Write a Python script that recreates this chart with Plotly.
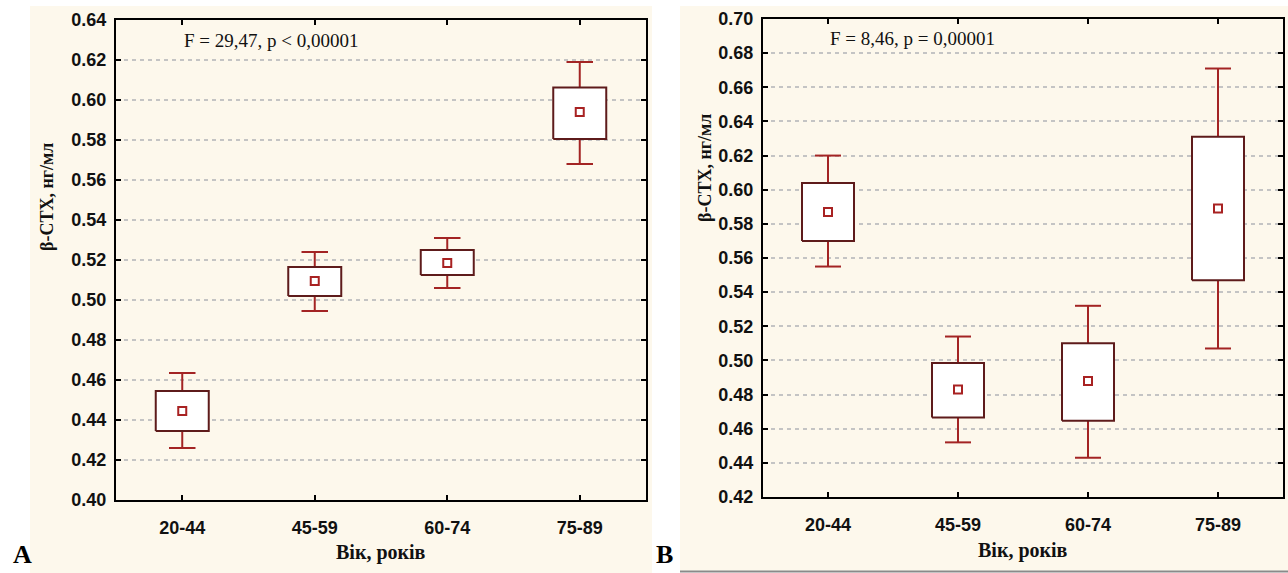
import plotly.graph_objects as go

categories = ["20-44", "45-59", "60-74", "75-89"]

# Panel A
A_q1 = [0.4345, 0.502, 0.5125, 0.5805]
A_q3 = [0.4545, 0.5165, 0.525, 0.6063]
A_mean = [0.4445, 0.5095, 0.5185, 0.594]
A_lo = [0.426, 0.4945, 0.506, 0.568]
A_hi = [0.4635, 0.524, 0.531, 0.619]

# Panel B
B_q1 = [0.570, 0.4665, 0.4647, 0.547]
B_q3 = [0.604, 0.4985, 0.510, 0.631]
B_mean = [0.587, 0.483, 0.488, 0.589]
B_lo = [0.555, 0.452, 0.443, 0.507]
B_hi = [0.620, 0.514, 0.532, 0.671]

W, H = 1288, 573
BOX_COLOR = "#5e1b1b"
WHISK_COLOR = "#a32424"
MEAN_COLOR = "#a82222"
BW = 0.2   # half box width (category units)
CW = 0.1   # half cap width

fig = go.Figure()


def add_panel(q1, q3, mean, lo, hi, xa, ya):
    for i in range(len(categories)):
        fig.add_trace(go.Scatter(
            x=[i, i, None, i - CW, i + CW, None, i, i, None, i - CW, i + CW],
            y=[q3[i], hi[i], None, hi[i], hi[i], None, q1[i], lo[i], None, lo[i], lo[i]],
            mode="lines", line=dict(color=WHISK_COLOR, width=2),
            xaxis=xa, yaxis=ya, showlegend=False, hoverinfo="skip"))
        fig.add_trace(go.Scatter(
            x=[i - BW, i + BW, i + BW, i - BW, i - BW],
            y=[q1[i], q1[i], q3[i], q3[i], q1[i]],
            mode="lines", line=dict(color=BOX_COLOR, width=2),
            fill="toself", fillcolor="white",
            xaxis=xa, yaxis=ya, showlegend=False, hoverinfo="skip"))
    fig.add_trace(go.Scatter(
        x=list(range(len(categories))), y=mean, mode="markers",
        marker=dict(symbol="square-open", size=8, color=MEAN_COLOR,
                    line=dict(width=2, color=MEAN_COLOR)),
        xaxis=xa, yaxis=ya, showlegend=False))


add_panel(A_q1, A_q3, A_mean, A_lo, A_hi, "x", "y")
add_panel(B_q1, B_q3, B_mean, B_lo, B_hi, "x2", "y2")

tickfont = dict(family="Liberation Sans", size=18, color="#111111", weight="bold")


def xax(domain):
    return dict(domain=domain, range=[-0.5, 3.5], tickvals=[0, 1, 2, 3],
                ticktext=categories, showline=True, linecolor="black", linewidth=2,
                mirror="ticks", ticks="inside", ticklen=5, tickwidth=2, tickcolor="black",
                showgrid=False, zeroline=False, tickfont=tickfont, automargin=False,
                ticklabelstandoff=10, fixedrange=True)


def yax(domain, rng, anchor):
    return dict(domain=domain, range=rng, dtick=0.02, tick0=0.40, tickformat=".2f",
                showline=True, linecolor="black", linewidth=2, mirror="ticks",
                ticks="inside", ticklen=5, tickwidth=2, tickcolor="black",
                showgrid=True, gridcolor="#c4c4c4", griddash="4px,4px", gridwidth=1.5,
                zeroline=False, tickfont=tickfont, anchor=anchor, automargin=False,
                ticklabelstandoff=4, fixedrange=True)


fig.update_layout(
    width=W, height=H, margin=dict(l=0, r=0, t=0, b=0, pad=0, autoexpand=False),
    paper_bgcolor="white", plot_bgcolor="white",
    xaxis=xax([116 / W, 646 / W]) | dict(anchor="y"),
    yaxis=yax([(H - 500) / H, (H - 20) / H], [0.40, 0.64], "x"),
    xaxis2=xax([763 / W, 1283 / W]) | dict(anchor="y2"),
    yaxis2=yax([(H - 497) / H, (H - 19) / H], [0.42, 0.70], "x2"),
    shapes=[
        dict(type="rect", xref="paper", yref="paper", x0=30 / W, x1=652 / W,
             y0=0, y1=(H - 6) / H, fillcolor="#fdf8ec", line=dict(width=0), layer="below"),
        dict(type="rect", xref="paper", yref="paper", x0=680 / W, x1=1,
             y0=1 / H, y1=(H - 6) / H, fillcolor="#fdf8ec", line=dict(width=0), layer="below"),
        dict(type="line", xref="paper", yref="paper", x0=680 / W, x1=1,
             y0=1.5 / H, y1=1.5 / H, line=dict(color="#8a8a8a", width=2)),
    ],
)

serif = "Liberation Serif"
ann = [
    dict(text="F = 29,47, p < 0,00001", x=182 / W, y=(H - 40) / H, xanchor="left",
         yanchor="middle", font=dict(family=serif, size=19, color="#111111")),
    dict(text="F = 8,46, p = 0,00001", x=828 / W, y=(H - 38) / H, xanchor="left",
         yanchor="middle", font=dict(family=serif, size=19, color="#111111")),
    dict(text="<b>Вік, років</b>", x=381 / W, y=(H - 552) / H, xanchor="center",
         yanchor="middle", font=dict(family=serif, size=20, color="#111111")),
    dict(text="<b>Вік, років</b>", x=1023 / W, y=(H - 550) / H, xanchor="center",
         yanchor="middle", font=dict(family=serif, size=20, color="#111111")),
    dict(text="<b>β-CTX, нг/мл</b>", x=47 / W, y=(H - 197) / H, xanchor="center",
         yanchor="middle", textangle=-90, font=dict(family=serif, size=18, color="#111111")),
    dict(text="<b>β-CTX, нг/мл</b>", x=705 / W, y=(H - 168) / H, xanchor="center",
         yanchor="middle", textangle=-90, font=dict(family=serif, size=18, color="#111111")),
    dict(text="<b>A</b>", x=22 / W, y=2 / H, xanchor="center",
         yanchor="bottom", font=dict(family=serif, size=26, color="black")),
    dict(text="<b>B</b>", x=664 / W, y=2 / H, xanchor="center",
         yanchor="bottom", font=dict(family=serif, size=26, color="black")),
]
for a in ann:
    a.update(xref="paper", yref="paper", showarrow=False)
fig.update_layout(annotations=ann)

fig.write_html("out.html", config={"displayModeBar": False},
               post_script="document.body.style.margin='0';document.body.style.overflow='hidden';")
